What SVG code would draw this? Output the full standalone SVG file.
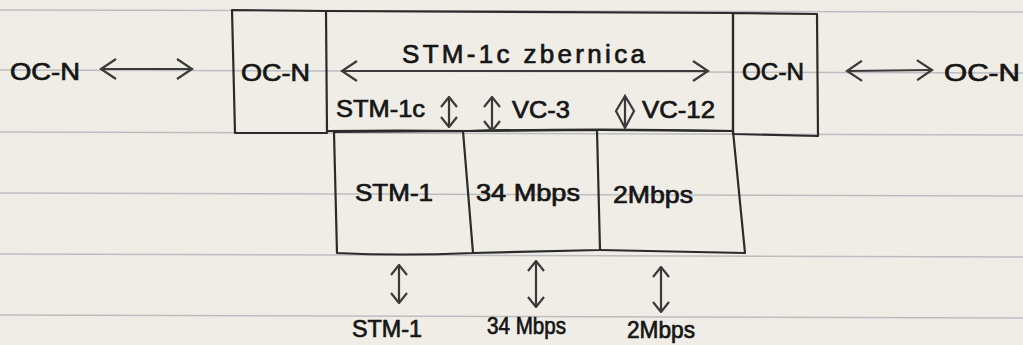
<svg xmlns="http://www.w3.org/2000/svg" width="1023" height="345" viewBox="0 0 1023 345">
<style>
.paper{fill:#efede5}
.rule{stroke:#bdbdc2;stroke-width:1.3;fill:none}
.box{fill:none;stroke:#2b2b2b;stroke-width:2.2;stroke-linejoin:round}
.conn{fill:none;stroke:#3a3a3a;stroke-width:2.2}
.t{font-family:"Liberation Sans",Arial,sans-serif;fill:#151515;stroke:#151515;stroke-width:0.7;font-size:24px}
.big{font-size:26px}
</style>
<defs>
<marker id="hh" viewBox="0 0 18 22" refX="16" refY="11" markerWidth="18" markerHeight="22" markerUnits="userSpaceOnUse" orient="auto-start-reverse">
<path d="M1,1 L16,11 L1,21" fill="none" stroke="#3a3a3a" stroke-width="2.2"/>
</marker>
<marker id="hv" viewBox="0 0 12 18" refX="11" refY="9" markerWidth="12" markerHeight="18" markerUnits="userSpaceOnUse" orient="auto-start-reverse">
<path d="M1,1 L11,9 L1,17" fill="none" stroke="#3a3a3a" stroke-width="2.2"/>
</marker>
</defs>
<rect class="paper" x="0" y="0" width="1023" height="345"/>
<g id="paper-rules">
<path class="rule" d="M0,10 L1023,12"/>
<path class="rule" d="M0,70 L1023,73"/>
<path class="rule" d="M0,132 L1023,135"/>
<path class="rule" d="M0,193 L1023,196"/>
<path class="rule" d="M0,254 L1023,257"/>
<path class="rule" d="M0,315 L1023,318"/>
</g>
<g id="oc-n-left-ext"><text class="t" x="10" y="80" textLength="70" lengthAdjust="spacingAndGlyphs">OC-N</text></g>
<g id="oc-n-left">
<path class="box" d="M232,10 L326,11 L327,133 L235,133 Z"/>
<text class="t" x="241" y="81" textLength="69" lengthAdjust="spacingAndGlyphs">OC-N</text>
</g>
<g id="bus">
<path class="box" d="M326,11 L733,13 L733,131 Q600,128 470,131 Q400,130 327,131"/>
<text class="t big" x="402" y="63" textLength="243" lengthAdjust="spacing">STM-1c  zbernica</text>
<text class="t" x="336" y="117" textLength="89" lengthAdjust="spacingAndGlyphs">STM-1c</text>
<text class="t" x="512" y="118" textLength="58" lengthAdjust="spacingAndGlyphs">VC-3</text>
<text class="t" x="642" y="118" textLength="73" lengthAdjust="spacingAndGlyphs">VC-12</text>
</g>
<g id="oc-n-right">
<path class="box" d="M733,13 L817,14 L818,136 L733,134 Z"/>
<text class="t" x="742" y="80" font-size="21" textLength="62" lengthAdjust="spacingAndGlyphs">OC-N</text>
</g>
<g id="oc-n-right-ext"><text class="t" x="944" y="81" textLength="76" lengthAdjust="spacingAndGlyphs">OC-N</text></g>
<g id="stm1-box">
<path class="box" d="M334,132 L463,131 L473,253 Q400,256 337,253 Z"/>
<text class="t" x="355" y="201" textLength="78" lengthAdjust="spacingAndGlyphs">STM-1</text>
</g>
<g id="mbps34-box">
<path class="box" d="M463,131 L597,130 L600,250 L473,253"/>
<text class="t" x="476" y="201" textLength="104" lengthAdjust="spacingAndGlyphs">34 Mbps</text>
</g>
<g id="mbps2-box">
<path class="box" d="M597,130 L733,131 L745,253 L600,250"/>
<text class="t" x="613" y="203" textLength="80" lengthAdjust="spacingAndGlyphs">2Mbps</text>
</g>
<g id="bottom-labels">
<text class="t" x="352" y="337" font-size="23" textLength="70" lengthAdjust="spacingAndGlyphs">STM-1</text>
<text class="t" x="487" y="334" font-size="23" textLength="79" lengthAdjust="spacingAndGlyphs">34 Mbps</text>
<text class="t" x="627" y="338" font-size="23" textLength="68" lengthAdjust="spacingAndGlyphs">2Mbps</text>
</g>
<g id="connectors">
<path class="conn" d="M101,69 L192,69" marker-start="url(#hh)" marker-end="url(#hh)"/>
<path class="conn" d="M342,71 L708,71" marker-start="url(#hh)" marker-end="url(#hh)"/>
<path class="conn" d="M847,71 L932,70" marker-start="url(#hh)" marker-end="url(#hh)"/>
<path class="conn" d="M449,97 L449,127" marker-start="url(#hv)" marker-end="url(#hv)"/>
<path class="conn" d="M492,97 L492,131" marker-start="url(#hv)" marker-end="url(#hv)"/>
<path class="conn" d="M625,96 L625,128 M625,96 L616,111 L625,128 L634,111 Z"/>
<path class="conn" d="M399,265 L399,303" marker-start="url(#hv)" marker-end="url(#hv)"/>
<path class="conn" d="M536,261 L536,307" marker-start="url(#hv)" marker-end="url(#hv)"/>
<path class="conn" d="M661,267 L661,312" marker-start="url(#hv)" marker-end="url(#hv)"/>
</g>
</svg>
